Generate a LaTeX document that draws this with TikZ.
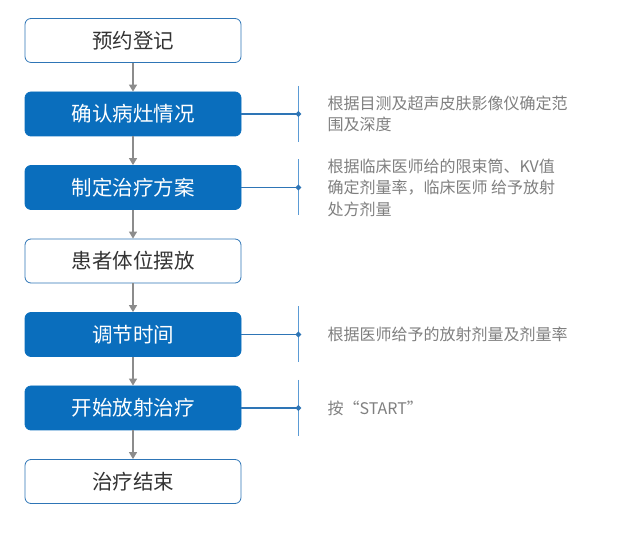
\documentclass[tikz,border=0pt]{standalone}
\usepackage{fontspec}
\setmainfont{Noto Sans CJK SC}
\usetikzlibrary{calc,arrows.meta}

\definecolor{stepblue}{HTML}{0A6EBD}
\definecolor{edgeblue}{HTML}{2E75B6}
\definecolor{barblue}{HTML}{5B9BD5}
\definecolor{arrowgray}{HTML}{8C8C8C}
\definecolor{textgray}{HTML}{7F7F7F}

\tikzset{
  plainbox/.style={rectangle, rounded corners=6pt, draw=edgeblue, line width=0.8pt,
    fill=white, text=black!80, minimum width=216pt, minimum height=44pt,
    inner sep=0pt, font=\fontsize{20.5}{24}\selectfont},
  bluebox/.style={plainbox, draw=stepblue, fill=stepblue, text=white},
  flow/.style={arrowgray, line width=1.4pt, -{Triangle[width=8pt,length=7pt]}},
  note/.style={anchor=west, align=left, text=textgray, inner sep=0pt,
    font=\fontsize{16}{21.5}\selectfont},
}

\begin{document}
\begin{tikzpicture}[x=1pt,y=1pt]
\useasboundingbox (0,0) rectangle (618,535);

\coordinate (reg) at (133,494.5);
\coordinate (check) at ($(reg) + (0,-73.5)$);
\coordinate (plan) at ($(check) + (0,-73.5)$);
\coordinate (pose) at ($(plan) + (0,-73.5)$);
\coordinate (time) at ($(pose) + (0,-73.5)$);
\coordinate (start) at ($(time) + (0,-73.5)$);
\coordinate (finish) at ($(start) + (0,-73.5)$);

\node[plainbox] (n1) at (reg) {预约登记};
\node[bluebox] (n2) at (check) {确认病灶情况};
\node[bluebox] (n3) at (plan) {制定治疗方案};
\node[plainbox] (n4) at (pose) {患者体位摆放};
\node[bluebox] (n5) at (time) {调节时间};
\node[bluebox] (n6) at (start) {开始放射治疗};
\node[plainbox] (n7) at (finish) {治疗结束};

\draw[flow] (n1) -- (n2);
\draw[flow] (n2) -- (n3);
\draw[flow] (n3) -- (n4);
\draw[flow] (n4) -- (n5);
\draw[flow] (n5) -- (n6);
\draw[flow] (n6) -- (n7);

% side notes
\foreach \n/\txt in {n2/{根据目测及超声皮肤影像仪确定范\\围及深度},
    n3/{根据临床医师给的限束筒、KV值\\确定剂量率，临床医师 给予放射\\处方剂量},
    n5/{根据医师给予的放射剂量及剂量率},
    n6/{按“START”}} {
  \coordinate (\n-bar) at ($(\n.east) + (57,0)$);
  \draw[barblue, line width=1pt] ($(\n-bar) + (0,28)$) -- ($(\n-bar) + (0,-28)$);
  \draw[edgeblue, line width=1.1pt] (\n.east) -- (\n-bar);
  \fill[edgeblue] ($(\n-bar) + (0,3)$) -- ++(3,-3) -- ++(-3,-3) -- ++(-3,3) -- cycle;
  \node[note] (\n-note) at ($(\n-bar) + (29,0)$) {\txt};
}

\end{tikzpicture}
\end{document}
